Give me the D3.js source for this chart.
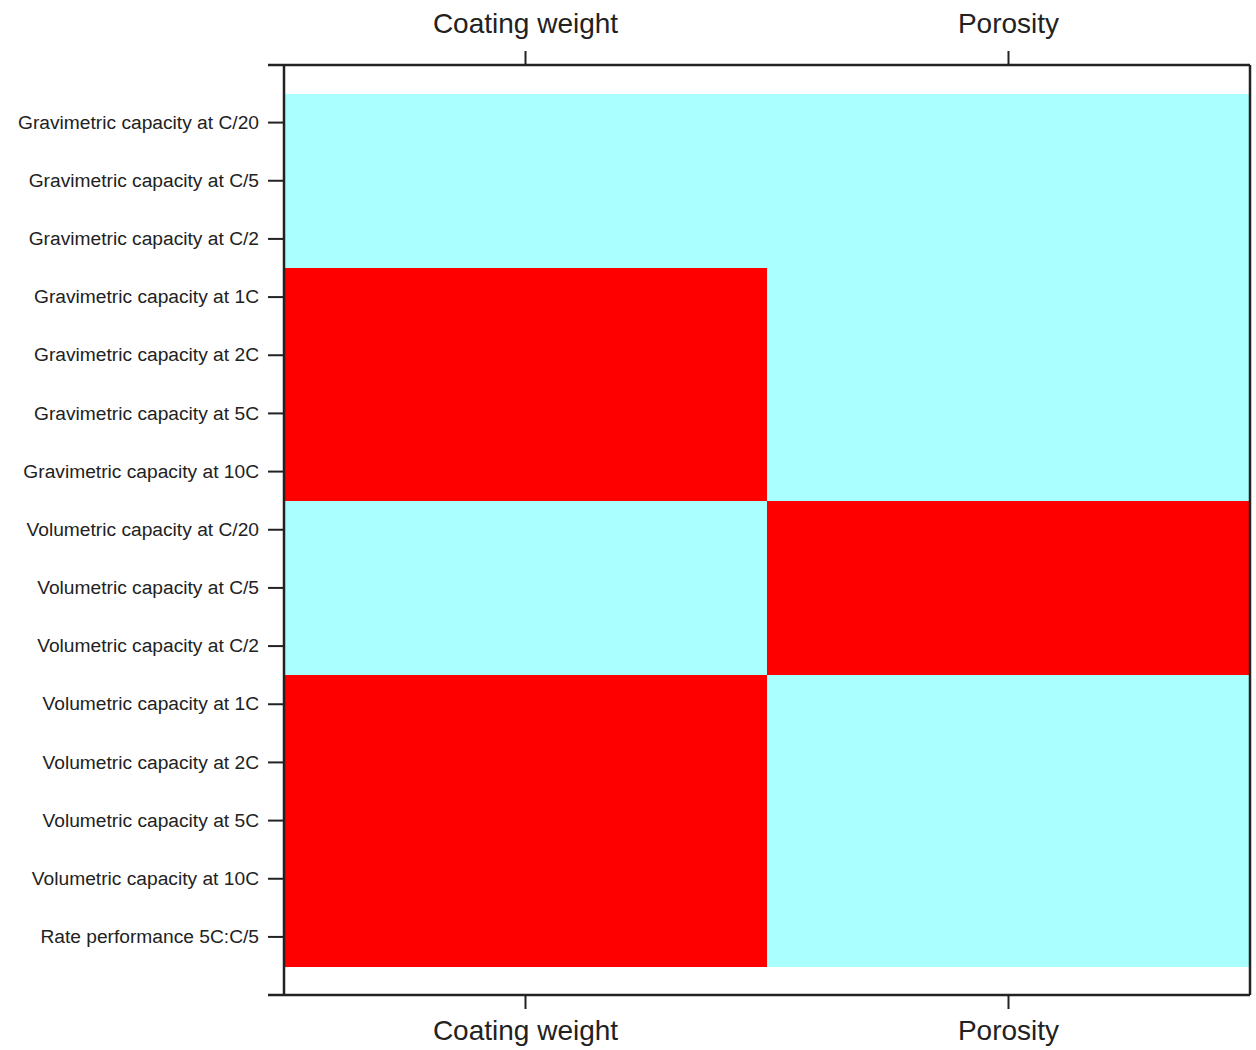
<!DOCTYPE html>
<html><head><meta charset="utf-8">
<script src="https://cdn.jsdelivr.net/npm/d3@7"></script>
<style>body{margin:0;background:#fff}svg{display:block}</style>
</head><body>
<svg id="chart" width="1256" height="1050"></svg>
<script>
const rows = ["Gravimetric capacity at C/20","Gravimetric capacity at C/5","Gravimetric capacity at C/2","Gravimetric capacity at 1C","Gravimetric capacity at 2C","Gravimetric capacity at 5C","Gravimetric capacity at 10C","Volumetric capacity at C/20","Volumetric capacity at C/5","Volumetric capacity at C/2","Volumetric capacity at 1C","Volumetric capacity at 2C","Volumetric capacity at 5C","Volumetric capacity at 10C","Rate performance 5C:C/5"];
const cols = ["Coating weight","Porosity"];
const coatingWeight = [0,0,0,1,1,1,1,0,0,0,1,1,1,1,1];
const porosity      = [0,0,0,0,0,0,0,1,1,1,0,0,0,0,0];
const colorLevels = [0,1];
const colorValues = ["#aaffff","#ff0000"];

const svg = d3.select("#chart");
const L=284, R=1250, T=65, B=995, cellTop=93.5, cellBot=966;
const x = d3.scaleBand().domain(cols).range([L,R]).padding(0);
const y = d3.scaleBand().domain(rows).range([cellTop,cellBot]).padding(0);
const color = d3.scaleOrdinal().domain(colorLevels).range(colorValues);

const cells=[];
rows.forEach((r,i)=>{cells.push({r,c:cols[0],v:coatingWeight[i]});cells.push({r,c:cols[1],v:porosity[i]});});
svg.append("g").selectAll("rect").data(cells).join("rect")
  .attr("x",d=>x(d.c)).attr("y",d=>y(d.r))
  .attr("width",x.bandwidth()+0.5).attr("height",y.bandwidth()+0.5)
  .attr("fill",d=>color(d.v)).attr("shape-rendering","crispEdges");

const font="Liberation Sans, Arial, sans-serif";
// left axis
const yAxis = svg.append("g").attr("transform",`translate(${L},0)`)
  .call(d3.axisLeft(y).tickSize(16).tickPadding(9));
yAxis.select(".domain").remove();
yAxis.selectAll("line").attr("stroke","#222").attr("stroke-width",2);
yAxis.selectAll("text").attr("font-family",font).attr("font-size",19.2).attr("fill","#222");

const xTop = svg.append("g").attr("transform",`translate(0,${T})`)
  .call(d3.axisTop(x).tickSize(14).tickPadding(18));
xTop.select(".domain").remove();
xTop.selectAll("line").attr("stroke","#222").attr("stroke-width",2);
xTop.selectAll("text").attr("font-family",font).attr("font-size",28).attr("fill","#222");

const xBot = svg.append("g").attr("transform",`translate(0,${B})`)
  .call(d3.axisBottom(x).tickSize(14).tickPadding(11));
xBot.select(".domain").remove();
xBot.selectAll("line").attr("stroke","#222").attr("stroke-width",2);
xBot.selectAll("text").attr("font-family",font).attr("font-size",28).attr("fill","#222");

// frame
const fr = svg.append("g").attr("stroke","#222").attr("stroke-width",2.5).attr("fill","none");
fr.append("line").attr("x1",268).attr("x2",R).attr("y1",T).attr("y2",T);
fr.append("line").attr("x1",268).attr("x2",R).attr("y1",B).attr("y2",B);
fr.append("line").attr("x1",L).attr("x2",L).attr("y1",T).attr("y2",B);
fr.append("line").attr("x1",R).attr("x2",R).attr("y1",T).attr("y2",B);
</script>
</body></html>
